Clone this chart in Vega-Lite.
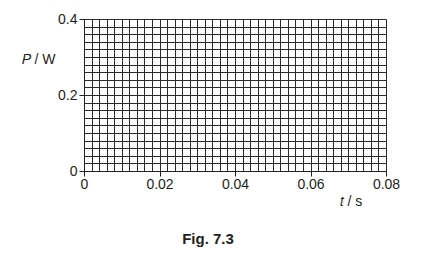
{
  "$schema": "https://vega.github.io/schema/vega-lite/v6.json",
  "width": 302,
  "height": 152,
  "autosize": {"type": "none"},
  "padding": {"left": 84, "top": 19, "right": 53, "bottom": 85},
  "background": "white",
  "config": {
    "view": {"stroke": null},
    "font": "Liberation Sans",
    "axis": {
      "labelFont": "Liberation Sans",
      "labelFontSize": 14,
      "labelColor": "#231f20",
      "titleFont": "Liberation Sans",
      "titleFontSize": 14,
      "titleFontWeight": "normal",
      "titleColor": "#231f20",
      "domainColor": "#231f20",
      "domainWidth": 1,
      "tickColor": "#231f20",
      "tickSize": 5,
      "gridColor": "#2a2a2a",
      "gridOpacity": 1,
      "gridWidth": 1,
      "labelOverlap": false,
      "labelFlush": false
    }
  },
  "title": {
    "text": "Fig. 7.3",
    "orient": "bottom",
    "anchor": "middle",
    "font": "Liberation Sans",
    "fontSize": 15,
    "fontWeight": "bold",
    "color": "#231f20",
    "dx": -27,
    "offset": 24
  },
  "data": {
    "values": [
      {"t": 0, "P": 0},
      {"t": 0.08, "P": 0.4}
    ]
  },
  "mark": {"type": "point", "opacity": 0},
  "encoding": {
    "x": {
      "field": "t",
      "type": "quantitative",
      "scale": {"domain": [0, 0.08], "nice": false, "zero": false},
      "axis": {
        "values": [0,0.002,0.004,0.006,0.008,0.01,0.012,0.014,0.016,0.018,0.02,0.022,0.024,0.026,0.028,0.03,0.032,0.034,0.036,0.038,0.04,0.042,0.044,0.046,0.048,0.05,0.052,0.054,0.056,0.058,0.06,0.062,0.064,0.066,0.068,0.07,0.072,0.074,0.076,0.078,0.08],
        "grid": true,
        "labelExpr": "round(datum.value*500)%10==0 ? format(datum.value, '.2~f') : ''",
        "tickOpacity": {"condition": {"test": "round(datum.value*500)%10==0", "value": 1}, "value": 0},
        "labelPadding": 1,
        "title": "𝑡 / s",
        "titleAngle": 0,
        "titleAlign": "left",
        "titleBaseline": "middle",
        "titleX": 255,
        "titleY": 30
      }
    },
    "y": {
      "field": "P",
      "type": "quantitative",
      "scale": {"domain": [0, 0.4], "nice": false, "zero": false},
      "axis": {
        "values": [0,0.02,0.04,0.06,0.08,0.1,0.12,0.14,0.16,0.18,0.2,0.22,0.24,0.26,0.28,0.3,0.32,0.34,0.36,0.38,0.4],
        "grid": true,
        "labelExpr": "round(datum.value*50)%10==0 ? format(datum.value, '.1~f') : ''",
        "tickOpacity": {"condition": {"test": "round(datum.value*50)%10==0", "value": 1}, "value": 0},
        "labelPadding": 2,
        "title": "𝑃 / W",
        "titleAngle": 0,
        "titleAlign": "left",
        "titleBaseline": "middle",
        "titleX": -63,
        "titleY": 40
      }
    }
  }
}
